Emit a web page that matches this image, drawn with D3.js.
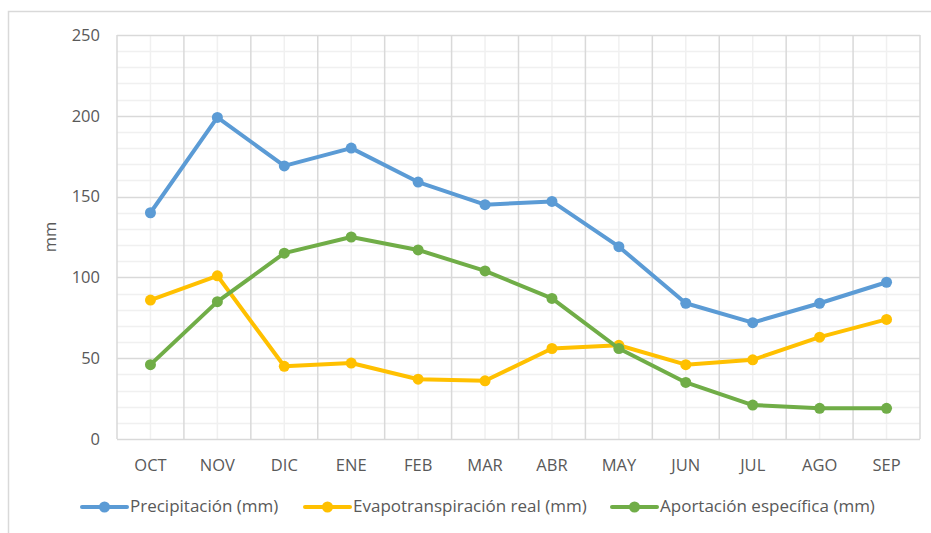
<!DOCTYPE html>
<html>
<head>
<meta charset="utf-8">
<script src="https://cdn.jsdelivr.net/npm/d3@7"></script>
<style>
  body { margin: 0; background: #fff; }
  text { font-family: "Open Sans", "Noto Sans", sans-serif; fill: #595959; }
</style>
</head>
<body>
<script>
// datos (mm)
const meses = ["OCT", "NOV", "DIC", "ENE", "FEB", "MAR", "ABR", "MAY", "JUN", "JUL", "AGO", "SEP"]
const precipitacion = [140, 199, 169, 180, 159, 145, 147, 119, 84, 72, 84, 97]
const evapotranspiracion = [86, 101, 45, 47, 37, 36, 56, 58, 46, 49, 63, 74]
const aportacion = [46, 85, 115, 125, 117, 104, 87, 56, 35, 21, 19, 19]
const ticksY = [0, 50, 100, 150, 200, 250]

const series = [
  { nombre: "Precipitación (mm)", valores: precipitacion, color: "#5B9BD5" },
  { nombre: "Evapotranspiración real (mm)", valores: evapotranspiracion, color: "#FFC000" },
  { nombre: "Aportación específica (mm)", valores: aportacion, color: "#70AD47" }
]

var margin = { top: 35, right: 11, bottom: 94, left: 117 }
var width = 931 - margin.left - margin.right
var height = 533 - margin.top - margin.bottom

var svg = d3.select("body").append("svg")
    .attr("width", 931)
    .attr("height", 533)

// marco exterior
svg.append("rect")
    .attr("x", 8.5).attr("y", 11.5)
    .attr("width", 940).attr("height", 540)
    .attr("fill", "none")
    .attr("stroke", "#d9d9d9")
    .attr("stroke-width", 1.5)

var g = svg.append("g")
    .attr("transform", "translate(" + margin.left + "," + margin.top + ")")

var x = d3.scaleBand().domain(meses).range([0, width])
var y = d3.scaleLinear().domain([0, 250]).range([height, 0])

// rejilla menor
g.append("g").selectAll("line")
    .data(d3.range(0, 251, 10).filter(v => v % 50 != 0))
    .enter().append("line")
    .attr("x1", 0).attr("x2", width)
    .attr("y1", d => Math.round(y(d)) + 0.5).attr("y2", d => Math.round(y(d)) + 0.5)
    .attr("stroke", "#f0f0f0").attr("stroke-width", 1.5)

g.append("g").selectAll("line")
    .data(meses)
    .enter().append("line")
    .attr("x1", d => x(d) + x.bandwidth() / 2).attr("x2", d => x(d) + x.bandwidth() / 2)
    .attr("y1", 0).attr("y2", height)
    .attr("stroke", "#f0f0f0").attr("stroke-width", 1.5)

// rejilla mayor
g.append("g").selectAll("line")
    .data(ticksY)
    .enter().append("line")
    .attr("x1", 0).attr("x2", width)
    .attr("y1", d => Math.round(y(d)) + 0.5).attr("y2", d => Math.round(y(d)) + 0.5)
    .attr("stroke", "#d9d9d9").attr("stroke-width", 1.5)

g.append("g").selectAll("line")
    .data(meses.concat(["fin"]))
    .enter().append("line")
    .attr("x1", (d, i) => i * x.step()).attr("x2", (d, i) => i * x.step())
    .attr("y1", 0).attr("y2", height)
    .attr("stroke", "#d9d9d9").attr("stroke-width", 1.5)

// eje Y
var ejeY = g.append("g")
    .call(d3.axisLeft(y).tickValues(ticksY).tickSize(0).tickPadding(17))
ejeY.select(".domain").remove()
ejeY.selectAll("text").style("font-size", "16.5px").attr("fill", "#595959")

// eje X
var ejeX = g.append("g")
    .attr("transform", "translate(0," + height + ")")
    .call(d3.axisBottom(x).tickSize(0).tickPadding(20))
ejeX.select(".domain").remove()
ejeX.selectAll("text").style("font-size", "16.5px").attr("fill", "#595959")

// titulo eje Y
g.append("text")
    .attr("transform", "translate(-65," + height / 2 + ") rotate(-90)")
    .attr("text-anchor", "middle")
    .attr("dominant-baseline", "middle")
    .style("font-size", "16.5px")
    .text("mm")

// lineas
var linea = d3.line()
    .x((d, i) => x(meses[i]) + x.bandwidth() / 2)
    .y(d => y(d))

series.forEach(function (s) {
    g.append("path")
        .datum(s.valores)
        .attr("fill", "none")
        .attr("stroke", s.color)
        .attr("stroke-width", 4)
        .attr("stroke-linejoin", "round")
        .attr("d", linea)

    g.append("g").selectAll("circle")
        .data(s.valores)
        .enter().append("circle")
        .attr("cx", (d, i) => x(meses[i]) + x.bandwidth() / 2)
        .attr("cy", d => y(d))
        .attr("r", 5.5)
        .attr("fill", s.color)
})

// leyenda
var posLeyenda = [82, 305, 612]
var leyenda = svg.append("g").selectAll("g")
    .data(series)
    .enter().append("g")
    .attr("transform", (d, i) => "translate(" + posLeyenda[i] + ",507)")

leyenda.append("line")
    .attr("x1", 0).attr("x2", 45)
    .attr("stroke", d => d.color)
    .attr("stroke-width", 4)
    .attr("stroke-linecap", "round")

leyenda.append("circle")
    .attr("cx", 22.5).attr("r", 5.5)
    .attr("fill", d => d.color)

leyenda.append("text")
    .attr("x", 48)
    .attr("dominant-baseline", "middle")
    .style("font-size", "17px")
    .text(d => d.nombre)
</script>
</body>
</html>
